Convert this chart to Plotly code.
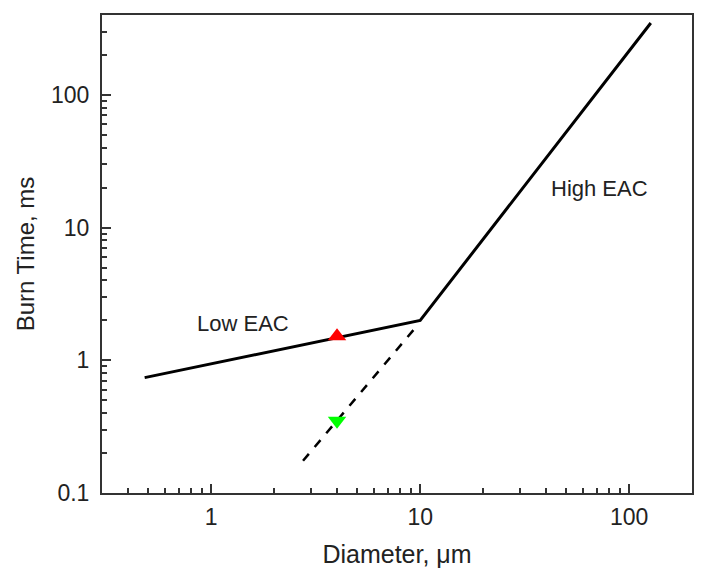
import math
import plotly.graph_objects as go

# Data
solid_x = [0.48, 10.0, 127.0]
solid_y = [0.74, 2.0, 348.0]
dash_x = [2.75, 9.6]
dash_y = [0.175, 1.8]
up_x = [4.0]
up_y = [1.52]
down_x = [4.0]
down_y = [0.35]
x_ticks = [1, 10, 100]
x_ticktext = ["1", "10", "100"]
x_minor = [0.4, 0.5, 0.6, 0.7, 0.8, 0.9, 2, 3, 4, 5, 6, 7, 8, 9,
           20, 30, 40, 50, 60, 70, 80, 90]
y_ticks = [0.1, 1, 10, 100]
y_ticktext = ["0.1", "1", "10", "100"]
y_minor = [0.2, 0.3, 0.4, 0.5, 0.6, 0.7, 0.8, 0.9, 2, 3, 4, 5, 6, 7, 8, 9,
           20, 30, 40, 50, 60, 70, 80, 90, 200, 300]
labels = ["Low EAC", "High EAC"]
label_x = [1.42, 72.0]
label_y = [1.9, 19.6]

FONT = "Liberation Sans, Arial, sans-serif"
TXT = "#222222"

fig = go.Figure()
fig.add_trace(go.Scatter(x=dash_x, y=dash_y, mode="lines",
                         line=dict(color="black", width=2.5, dash="dash")))
fig.add_trace(go.Scatter(x=solid_x, y=solid_y, mode="lines",
                         line=dict(color="black", width=3)))
fig.add_trace(go.Scatter(x=up_x, y=up_y, mode="markers",
                         marker=dict(symbol="triangle-up", size=16, color="#ff0000")))
fig.add_trace(go.Scatter(x=down_x, y=down_y, mode="markers",
                         marker=dict(symbol="triangle-down", size=16, color="#00ff00")))

# annotations on log axes are positioned in log10 units
for t, lx, ly in zip(labels, label_x, label_y):
    fig.add_annotation(x=math.log10(lx), y=math.log10(ly), xref="x", yref="y",
                       text=t, showarrow=False,
                       font=dict(family=FONT, size=22, color=TXT))

def axis_common(minor_vals):
    return dict(
        type="log", showgrid=False, zeroline=False, automargin=False,
        showline=True, linecolor="#333333", linewidth=2, mirror=True,
        ticks="inside", ticklen=9, tickwidth=1.5, tickcolor="#333333",
        tickfont=dict(family=FONT, size=23, color=TXT),
        minor=dict(ticks="inside", ticklen=5, tickwidth=1.5, tickcolor="#333333",
                   showgrid=False, tickmode="array", tickvals=minor_vals),
    )

fig.update_xaxes(**axis_common(x_minor), range=[math.log10(0.3), math.log10(200)],
                 tickmode="array", tickvals=x_ticks, ticktext=x_ticktext,
                 ticklabelstandoff=2,
                 title=dict(text="Diameter, μm", font=dict(family=FONT, size=25, color=TXT),
                            standoff=17))
fig.update_yaxes(**axis_common(y_minor), range=[math.log10(0.1), math.log10(400)],
                 tickmode="array", tickvals=y_ticks, ticktext=y_ticktext,
                 ticklabelstandoff=6,
                 title=dict(text="Burn Time, ms", font=dict(family=FONT, size=24, color=TXT),
                            standoff=10))

# the page body has an 8px margin, so the figure is drawn 8px smaller
fig.update_layout(
    width=698, height=574,
    margin=dict(l=94, r=14, t=7, b=89),
    paper_bgcolor="white", plot_bgcolor="white",
    showlegend=False,
)

fig.write_html("out.html")
